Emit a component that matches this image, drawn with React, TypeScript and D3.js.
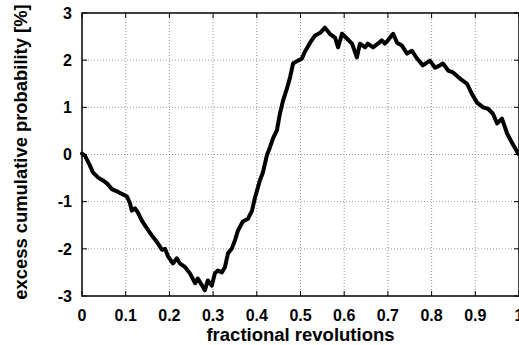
import React, { useRef, useEffect } from 'react';
import * as d3 from 'd3';

const xTicks = [0, 0.1, 0.2, 0.3, 0.4, 0.5, 0.6, 0.7, 0.8, 0.9, 1];
const yTicks = [-3, -2, -1, 0, 1, 2, 3];

// fractional revolutions
const revs = [
  0, 0.007, 0.018, 0.025, 0.037, 0.048, 0.057, 0.069, 0.08, 0.09,
  0.103, 0.11, 0.114, 0.121, 0.128, 0.137, 0.149, 0.16, 0.172, 0.183,
  0.19, 0.197, 0.208, 0.217, 0.224, 0.236, 0.247, 0.259, 0.265, 0.275,
  0.281, 0.288, 0.297, 0.304, 0.311, 0.32, 0.327, 0.334, 0.343, 0.35,
  0.357, 0.368, 0.38, 0.389, 0.396, 0.407, 0.414, 0.423, 0.43, 0.437,
  0.446, 0.453, 0.46, 0.469, 0.476, 0.483, 0.494, 0.503, 0.51, 0.522,
  0.533, 0.545, 0.556, 0.567, 0.579, 0.586, 0.595, 0.606, 0.618, 0.629,
  0.636, 0.648, 0.654, 0.666, 0.677, 0.686, 0.693, 0.7, 0.712, 0.721,
  0.732, 0.744, 0.755, 0.767, 0.78, 0.796, 0.808, 0.819, 0.826, 0.838,
  0.849, 0.865, 0.881, 0.892, 0.904, 0.918, 0.929, 0.94, 0.95, 0.961,
  0.973, 0.984, 0.998, 1
];

// excess cumulative probability [%]
const excess = [
  0.02, -0.03, -0.23, -0.38, -0.49, -0.55, -0.61, -0.74, -0.78, -0.83,
  -0.89, -1.04, -1.19, -1.14, -1.23, -1.4, -1.57, -1.72, -1.86, -2.02,
  -2.0, -2.16, -2.31, -2.2, -2.31, -2.39, -2.52, -2.73, -2.63, -2.78,
  -2.88, -2.67, -2.78, -2.52, -2.46, -2.5, -2.39, -2.1, -1.99, -1.82,
  -1.61, -1.42, -1.36, -1.19, -0.91, -0.55, -0.38, -0.02, 0.15, 0.34,
  0.51, 0.87, 1.14, 1.4, 1.63, 1.93, 1.99, 2.03, 2.18, 2.37,
  2.52, 2.58, 2.69, 2.56, 2.48, 2.27, 2.56, 2.46, 2.35, 2.06,
  2.35, 2.27, 2.35, 2.27, 2.35, 2.42, 2.35, 2.42, 2.56, 2.37,
  2.31, 2.14, 2.2, 2.03, 1.89, 1.99, 1.84, 1.89, 1.93, 1.78,
  1.74, 1.61, 1.5, 1.29, 1.1, 1.0, 0.97, 0.87, 0.66, 0.76,
  0.44, 0.25, 0.02, 0
];

const width = 519;
const height = 345;

const App: React.FC = () => {
  const svgRef = useRef<SVGSVGElement>(null);

  useEffect(() => {
    if (!svgRef.current) return;
    const svg = d3.select(svgRef.current);
    svg.selectAll('*').remove();

    const margin = { top: 13, right: 0, bottom: 49, left: 82 };
    const innerWidth = width - margin.left - margin.right;
    const innerHeight = height - margin.top - margin.bottom;
    const font = '"Liberation Sans", Arial, sans-serif';

    const x = d3.scaleLinear().domain([0, 1]).range([0, innerWidth]);
    const y = d3.scaleLinear().domain([-3, 3]).range([innerHeight, 0]);

    const g = svg.append('g')
      .attr('transform', `translate(${margin.left},${margin.top})`);

    // Grid lines
    g.selectAll('.vgrid')
      .data(xTicks.slice(1, -1))
      .enter().append('line')
      .attr('x1', d => x(d)).attr('x2', d => x(d))
      .attr('y1', 0).attr('y2', innerHeight)
      .style('stroke', '#999')
      .style('stroke-width', 1)
      .style('stroke-dasharray', '1,2');

    g.selectAll('.hgrid')
      .data(yTicks.slice(1, -1))
      .enter().append('line')
      .attr('x1', 0).attr('x2', innerWidth)
      .attr('y1', d => y(d)).attr('y2', d => y(d))
      .style('stroke', '#999')
      .style('stroke-width', 1)
      .style('stroke-dasharray', '1,2');

    // Inward ticks on all sides
    const tl = 5;
    xTicks.forEach(t => {
      g.append('line').attr('x1', x(t)).attr('x2', x(t)).attr('y1', innerHeight).attr('y2', innerHeight - tl).style('stroke', '#000');
      g.append('line').attr('x1', x(t)).attr('x2', x(t)).attr('y1', 0).attr('y2', tl).style('stroke', '#000');
    });
    yTicks.forEach(t => {
      g.append('line').attr('x1', 0).attr('x2', tl).attr('y1', y(t)).attr('y2', y(t)).style('stroke', '#000');
      g.append('line').attr('x1', innerWidth).attr('x2', innerWidth - tl).attr('y1', y(t)).attr('y2', y(t)).style('stroke', '#000');
    });

    // Curve
    const pts: [number, number][] = revs.map((r, i) => [r, excess[i]]);
    g.append('path')
      .datum(pts)
      .attr('d', d3.line<[number, number]>().x(d => x(d[0])).y(d => y(d[1])))
      .style('fill', 'none')
      .style('stroke', '#000')
      .style('stroke-width', 4)
      .style('stroke-linejoin', 'round')
      .style('stroke-linecap', 'round');

    // Border
    g.append('rect')
      .attr('x', 0).attr('y', 0)
      .attr('width', innerWidth).attr('height', innerHeight)
      .style('fill', 'none')
      .style('stroke', '#000')
      .style('stroke-width', 1.5);

    // Tick labels
    g.selectAll('.xlab')
      .data(xTicks)
      .enter().append('text')
      .attr('x', d => x(d))
      .attr('y', innerHeight + 25)
      .attr('text-anchor', 'middle')
      .style('font-family', font)
      .style('font-weight', 'bold')
      .style('font-size', '16px')
      .text(d => String(d));

    g.selectAll('.ylab')
      .data(yTicks)
      .enter().append('text')
      .attr('x', -10)
      .attr('y', d => y(d))
      .attr('dy', '0.36em')
      .attr('text-anchor', 'end')
      .style('font-family', font)
      .style('font-weight', 'bold')
      .style('font-size', '16px')
      .text(d => String(d));

    // Axis titles
    svg.append('text')
      .attr('x', margin.left + innerWidth / 2)
      .attr('y', 341)
      .attr('text-anchor', 'middle')
      .style('font-family', font)
      .style('font-weight', 'bold')
      .style('font-size', '18.5px')
      .text('fractional revolutions');

    svg.append('text')
      .attr('transform', 'rotate(-90)')
      .attr('x', -152)
      .attr('y', 27)
      .attr('text-anchor', 'middle')
      .style('font-family', font)
      .style('font-weight', 'bold')
      .style('font-size', '18.4px')
      .text('excess cumulative probability [%]');
  }, []);

  return (
    <svg
      ref={svgRef}
      width={width}
      height={height}
      style={{ position: 'absolute', left: 0, top: 0, background: '#fff' }}
    />
  );
};

export default App;
